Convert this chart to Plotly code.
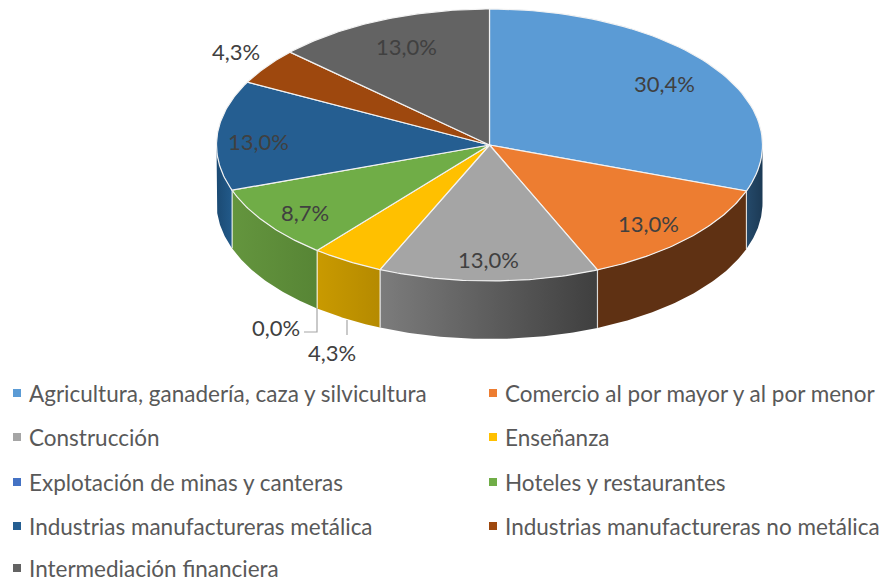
import math
import plotly.graph_objects as go

categories = ["Agricultura, ganadería, caza y silvicultura", "Comercio al por mayor y al por menor",
              "Construcción", "Enseñanza", "Explotación de minas y canteras", "Hoteles y restaurantes",
              "Industrias manufactureras metálica", "Industrias manufactureras no metálica",
              "Intermediación financiera"]
values = [30.4, 13.0, 13.0, 4.3, 0.0, 8.7, 13.0, 4.3, 13.0]
colors = ["#5B9BD5", "#ED7D31", "#A5A5A5", "#FFC000", "#4472C4", "#70AD47", "#255E91", "#9E480E", "#636363"]
side_left = ["#254A6B", "#5F3113", "#7C7C7C", "#C99A00", "#2F4F8A", "#64953E", "#1B4A73", "#6B3209", "#444444"]
side_right = ["#1C3A55", "#5F3113", "#3F3F3F", "#B58A00", "#2F4F8A", "#578535", "#225A8A", "#6B3209", "#444444"]

# label centres and legend layout, in chart pixels
label_pos = [(664, 83), (648, 223), (488, 259), (332, 352), (276, 327), (305, 212), (258, 141), (236, 51), (406, 46)]
legend_pos = [(17, 393), (493, 393), (17, 437), (493, 437), (17, 482), (493, 482), (17, 526), (493, 526), (17, 568)]
CX, CY, RX, RY, DEPTH = 489.5, 145, 273, 136, 58
FONT = "Lato"
LABEL_SIZE = 22
LEGEND_SIZE = 22.5


def pt(t, dy=0):
    return CX + RX * math.sin(t), CY - RY * math.cos(t) + dy


def arc(a, b, dy=0, n=60):
    return [pt(a + (b - a) * i / n, dy) for i in range(n + 1)]


fig = go.Figure()
total = sum(values)
spans = []
acc = 0.0
for v in values:
    a = acc / total * 2 * math.pi
    acc += v
    spans.append((a, acc / total * 2 * math.pi))

# side walls
for i, (a, b) in enumerate(spans):
    lo, hi = max(a, math.pi / 2), min(b, 3 * math.pi / 2)
    if hi <= lo:
        continue
    top = arc(lo, hi)
    bottom = arc(lo, hi, DEPTH)[::-1]
    poly = top + bottom + [top[0]]
    fig.add_trace(go.Scatter(
        x=[p[0] for p in poly], y=[p[1] for p in poly], mode="lines", fill="toself",
        line=dict(color="rgba(0,0,0,0)", width=0),
        fillgradient=dict(type="horizontal", colorscale=[[0, side_left[i]], [1, side_right[i]]]),
        hoverinfo="skip", showlegend=False))
    for t in (lo, hi):
        if t in (math.pi / 2, 3 * math.pi / 2):
            continue
        e0, e1 = pt(t), pt(t, DEPTH)
        fig.add_trace(go.Scatter(x=[e0[0], e1[0]], y=[e0[1], e1[1]], mode="lines",
                                 line=dict(color="rgba(255,255,255,0.65)", width=1.2),
                                 hoverinfo="skip", showlegend=False))

# top faces
for i, (a, b) in enumerate(spans):
    if b <= a:
        continue
    poly = [(CX, CY)] + arc(a, b) + [(CX, CY)]
    fig.add_trace(go.Scatter(
        x=[p[0] for p in poly], y=[p[1] for p in poly], mode="lines", fill="toself",
        fillcolor=colors[i], line=dict(color="#F2F2F2", width=1.2),
        name=categories[i], hoverinfo="name", showlegend=False))

# leader lines
fig.add_trace(go.Scatter(x=[317, 317, 304], y=[308, 332, 332], mode="lines",
                         line=dict(color="#A6A6A6", width=1.2), hoverinfo="skip", showlegend=False))
fig.add_trace(go.Scatter(x=[347, 347], y=[320, 335], mode="lines",
                         line=dict(color="#A6A6A6", width=1.2), hoverinfo="skip", showlegend=False))

# legend swatches
fig.add_trace(go.Scatter(x=[p[0] for p in legend_pos], y=[p[1] for p in legend_pos], mode="markers",
                         marker=dict(symbol="square", size=8, color=colors, line=dict(width=0)),
                         hoverinfo="skip", showlegend=False))

annotations = []
for v, (x, y) in zip(values, label_pos):
    annotations.append(dict(x=x, y=y, xref="x", yref="y", text=f"{v:.1f}%".replace(".", ","), showarrow=False,
                            font=dict(family=FONT, size=LABEL_SIZE, color="#404040"),
                            xanchor="center", yanchor="middle"))
for c, (x, y) in zip(categories, legend_pos):
    annotations.append(dict(x=x + 12, y=y, xref="x", yref="y", text=c, showarrow=False,
                            font=dict(family=FONT, size=LEGEND_SIZE, color="#595959"),
                            xanchor="left", yanchor="middle", xshift=-2))

fig.update_layout(
    width=883, height=582, margin=dict(l=0, r=0, t=0, b=0),
    paper_bgcolor="white", plot_bgcolor="white", showlegend=False,
    xaxis=dict(range=[0, 883], visible=False, fixedrange=True),
    yaxis=dict(range=[582, 0], visible=False, fixedrange=True),
    annotations=annotations,
)
fig.write_html("out.html", config={"displayModeBar": False},
               post_script="document.body.style.margin='0';")
